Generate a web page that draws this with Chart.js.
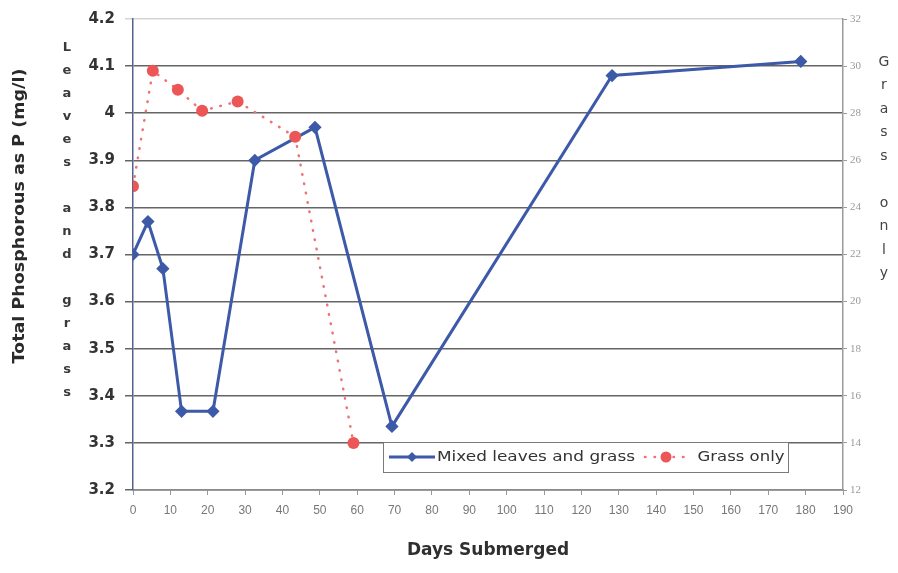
<!DOCTYPE html>
<html>
<head>
<meta charset="utf-8">
<script src="https://cdn.jsdelivr.net/npm/chart.js@4.4.1/dist/chart.umd.min.js"></script>
<style>
  html, body { margin: 0; padding: 0; background: #ffffff; }
  #wrap { width: 898px; height: 573px; position: relative; }
</style>
</head>
<body>
<div id="wrap"><canvas id="phChart"></canvas></div>
<script>
// values
const seriesNames = ['Mixed leaves and grass', 'Grass only'];
const mixedDays = [0, 4, 8, 13, 21.4, 32.6, 48.7, 69.3, 128.2, 178.7];
const mixedP = [3.70, 3.77, 3.67, 3.367, 3.367, 3.90, 3.97, 3.335, 4.08, 4.11];
const grassDays = [0, 5.3, 12, 18.5, 28, 43.4, 59];
const grassP = [24.9, 29.8, 29.0, 28.1, 28.5, 27.0, 14.0];

// axis ranges / tick labels
const xTickMin = 0, xTickMax = 190, xTickStep = 10;
const leftTickMin = 3.2, leftTickMax = 4.2, leftTickStep = 0.1;
const rightTickMin = 12, rightTickMax = 32, rightTickStep = 2;

const xTitle = 'Days Submerged';
const leftTitle = 'Total Phosphorous as P (mg/l)';
const leftStacked = 'Leaves and grass';
const rightStacked = 'Grass only';

const blue = '#3d5aa8';
const red = '#ec5656';
const redDots = '#ee7272';

function toPoints(xs, ys) {
    return xs.map((x, i) => ({ x: x, y: ys[i] }));
}

// draw text squeezed/stretched to a given width (the scan is a bit stretched)
function drawFitText(ctx, text, cx, cy, width, font, color, angle) {
    ctx.save();
    ctx.font = font;
    ctx.fillStyle = color;
    ctx.textAlign = 'center';
    ctx.textBaseline = 'middle';
    ctx.translate(cx, cy);
    if (angle) ctx.rotate(angle);
    const w = ctx.measureText(text).width;
    ctx.scale(width / w, 1);
    ctx.fillText(text, 0, 0);
    ctx.restore();
}

function drawStacked(ctx, text, cx, top, step, font, color) {
    ctx.save();
    ctx.font = font;
    ctx.fillStyle = color;
    ctx.textAlign = 'center';
    ctx.textBaseline = 'middle';
    text.split('').forEach((ch, i) => {
        if (ch !== ' ') ctx.fillText(ch, cx, top + i * step);
    });
    ctx.restore();
}

const extraText = {
    id: 'extraText',
    afterDraw(chart) {
        const ctx = chart.ctx;
        const ds = chart.data.datasets;

        drawFitText(ctx, leftTitle, 20, 216, 295, 'bold 15px "DejaVu Sans"', '#2a2a2a', -Math.PI / 2);
        drawStacked(ctx, leftStacked, 67, 48, 23, 'bold 13px "DejaVu Sans"', '#3a3a3a');
        drawStacked(ctx, rightStacked, 884, 62, 23.5, '14px "DejaVu Sans"', '#444444');

        // legend box
        ctx.save();
        ctx.fillStyle = '#ffffff';
        ctx.fillRect(383, 442, 405, 30);
        ctx.strokeStyle = '#7a7a7a';
        ctx.lineWidth = 1;
        ctx.strokeRect(383.5, 442.5, 405, 30);

        // blue sample
        ctx.strokeStyle = blue;
        ctx.lineWidth = 3;
        ctx.beginPath();
        ctx.moveTo(389, 457);
        ctx.lineTo(435, 457);
        ctx.stroke();
        ctx.fillStyle = blue;
        ctx.beginPath();
        ctx.moveTo(412, 452);
        ctx.lineTo(417, 457);
        ctx.lineTo(412, 462);
        ctx.lineTo(407, 457);
        ctx.closePath();
        ctx.fill();

        // red sample
        ctx.strokeStyle = redDots;
        ctx.lineWidth = 2.5;
        ctx.setLineDash([0.5, 9]);
        ctx.lineCap = 'round';
        ctx.beginPath();
        ctx.moveTo(645, 457);
        ctx.lineTo(690, 457);
        ctx.stroke();
        ctx.setLineDash([]);
        ctx.fillStyle = red;
        ctx.beginPath();
        ctx.arc(666, 457, 5.5, 0, Math.PI * 2);
        ctx.fill();
        ctx.restore();

        drawFitText(ctx, ds[1].label, 536, 457, 198, '14px "DejaVu Sans"', '#333333');
        drawFitText(ctx, ds[0].label, 741, 457, 87, '14px "DejaVu Sans"', '#333333');
    }
};

const ctx = document.getElementById('phChart').getContext('2d');

const chart = new Chart(ctx, {
    type: 'scatter',
    data: {
        datasets: [
            {
                label: seriesNames[1],
                data: toPoints(grassDays, grassP),
                yAxisID: 'y2',
                showLine: true,
                borderColor: redDots,
                borderWidth: 2.5,
                borderDash: [0.5, 9],
                borderCapStyle: 'round',
                pointRadius: 6,
                pointBackgroundColor: red,
                pointBorderColor: red,
                pointBorderWidth: 0,
                order: 0
            },
            {
                label: seriesNames[0],
                data: toPoints(mixedDays, mixedP),
                yAxisID: 'y',
                showLine: true,
                borderColor: blue,
                borderWidth: 3,
                pointStyle: 'rectRot',
                pointRadius: 4.5,
                pointBackgroundColor: blue,
                pointBorderColor: blue,
                order: 1
            }
        ]
    },
    options: {
        responsive: true,
        maintainAspectRatio: false,
        animation: false,
        layout: { padding: { top: 18, left: 0, right: 0, bottom: 0 } },
        plugins: {
            legend: { display: false },
            tooltip: { enabled: false }
        },
        scales: {
            x: {
                type: 'linear',
                min: xTickMin,
                max: xTickMax,
                ticks: {
                    stepSize: xTickStep,
                    color: '#777777',
                    font: { family: 'Liberation Sans', size: 12 },
                    padding: 8,
                    maxRotation: 0,
                    autoSkip: false
                },
                grid: { drawOnChartArea: false, tickLength: 5, color: '#999999' },
                border: { color: '#8a8a8a', width: 1.5 },
                title: {
                    display: true,
                    text: xTitle,
                    color: '#2f2f2f',
                    font: { family: 'DejaVu Sans', size: 17, weight: 'bold' },
                    padding: { top: 0, bottom: 12 }
                },
                afterFit(scale) { scale.height = 83; }
            },
            y: {
                position: 'left',
                min: leftTickMin,
                max: leftTickMax,
                ticks: {
                    stepSize: leftTickStep,
                    color: '#333333',
                    font: { family: 'DejaVu Sans', size: 15, weight: 'bold' },
                    padding: 10,
                    callback: v => String(Number(v.toFixed(1)))
                },
                grid: {
                    color: c => (c.tick && Math.abs(c.tick.value - leftTickMax) < 1e-6) ? '#d4d4d4' : '#656565',
                    lineWidth: 1.5,
                    tickLength: 8
                },
                border: { color: '#56618e', width: 1.5 },
                afterFit(scale) { scale.width = 133; }
            },
            y2: {
                position: 'right',
                min: rightTickMin,
                max: rightTickMax,
                ticks: {
                    stepSize: rightTickStep,
                    color: '#9a9a9a',
                    font: { family: 'Liberation Sans Narrow', size: 11 },
                    padding: 3
                },
                grid: { drawOnChartArea: false, tickLength: 4, color: '#999999' },
                border: { color: '#9a9a9a', width: 1.5 },
                afterFit(scale) { scale.width = 55; }
            }
        }
    },
    plugins: [extraText]
});
</script>
</body>
</html>
